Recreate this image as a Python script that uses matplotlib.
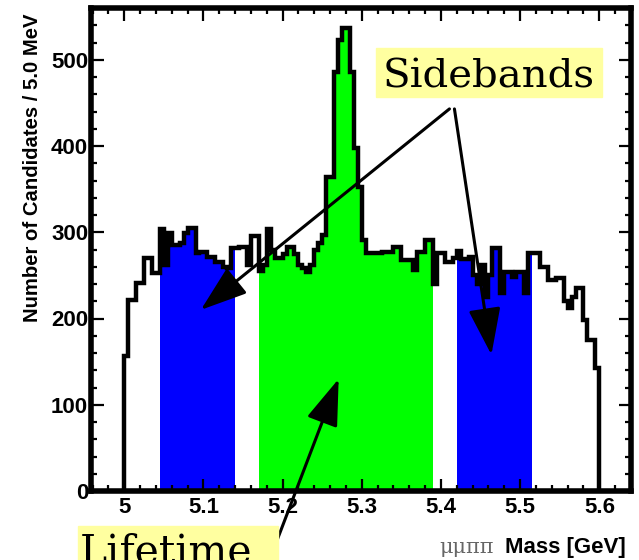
import numpy as np
import matplotlib
matplotlib.use("Agg")
import matplotlib.pyplot as plt
from matplotlib.patches import Rectangle
from matplotlib.ticker import MultipleLocator, FuncFormatter

# mu mu pi pi invariant mass, 5 MeV bins between 5.0 and 5.6 GeV
mass_lo, mass_hi = 5.0, 5.6
counts = [
    157, 222, 222, 241, 241, 270, 270, 253, 253, 304,
    262, 299, 285, 285, 288, 299, 305, 305, 276, 277,
    277, 271, 271, 266, 266, 260, 258, 282, 282, 283,
    283, 262, 296, 296, 255, 262, 304, 280, 270, 270,
    275, 283, 283, 275, 262, 258, 254, 262, 280, 288,
    297, 364, 364, 486, 523, 537, 537, 486, 398, 353,
    291, 276, 276, 276, 276, 277, 277, 277, 283, 283,
    268, 268, 268, 256, 277, 277, 291, 291, 240, 276,
    276, 266, 266, 270, 278, 269, 269, 271, 250, 240,
    262, 225, 250, 282, 282, 230, 254, 254, 248, 254,
    254, 230, 276, 276, 276, 260, 260, 245, 245, 247,
    247, 220, 212, 225, 235, 235, 198, 175, 175, 143,
]

# mass windows used for the lifetime fit and the background estimate
left_sideband = (5.045, 5.14)
signal_window = (5.17, 5.39)
right_sideband = (5.42, 5.515)

W, H = 639, 560
fig = plt.figure(figsize=(W / 100, H / 100), dpi=100)


def px(x, y):
    # figure pixels (from top-left) -> figure fraction
    return x / W, 1 - y / H


ax = fig.add_axes([91 / W, 1 - 491 / H, 540 / W, 483 / H])

vals = np.array(counts, dtype=float)
edges = np.linspace(mass_lo, mass_hi, len(vals) + 1)


def fill_window(lo, hi, color):
    idx = np.where((edges[:-1] >= lo - 1e-9) & (edges[1:] <= hi + 1e-9))[0]
    ax.stairs(vals[idx], edges[idx[0]:idx[-1] + 2], fill=True,
              color=color, lw=0, zorder=1)


fill_window(*left_sideband, "#0000ff")
fill_window(*right_sideband, "#0000ff")
fill_window(*signal_window, "#00ff00")
ax.stairs(vals, edges, color="black", lw=3.2, zorder=2)

ax.set_xlim(4.958, 5.64)
ax.set_ylim(0, 560)

ax.xaxis.set_major_locator(MultipleLocator(0.1))
ax.xaxis.set_minor_locator(MultipleLocator(0.02))
ax.yaxis.set_major_locator(MultipleLocator(100))
ax.yaxis.set_minor_locator(MultipleLocator(20))
ax.xaxis.set_major_formatter(FuncFormatter(lambda v, p: f"{v:g}"))
ax.yaxis.set_major_formatter(FuncFormatter(lambda v, p: f"{v:g}"))

ax.tick_params(which="both", direction="in", top=True, right=True,
               width=1.6, colors="black")
ax.tick_params(which="major", length=9)
ax.tick_params(which="minor", length=4.5)
ax.tick_params(axis="x", pad=4)
ax.tick_params(axis="y", pad=2)
for lab in ax.get_xticklabels() + ax.get_yticklabels():
    lab.set_fontfamily("Liberation Sans")
    lab.set_fontweight("bold")
    lab.set_fontsize(16)

for sp in ax.spines.values():
    sp.set_linewidth(4.0)

fig.text(*px(33, 168), "Number of Candidates / 5.0 MeV", rotation=90,
         ha="center", va="center", fontsize=14.6, fontweight="bold",
         family="Liberation Sans")
fig.text(*px(626, 553), "Mass [GeV]", ha="right", va="baseline",
         fontsize=16, fontweight="bold", family="Liberation Sans")
fig.text(*px(494, 553), "\u03bc\u03bc\u03c0\u03c0", ha="right", va="baseline",
         fontsize=15, family="DejaVu Serif", color="#666666")

# highlighted labels
box_color = "#ffffa0"
fig.patches.append(Rectangle(px(376, 97), 226 / W, 49 / H,
                             transform=fig.transFigure, color=box_color,
                             zorder=3))
fig.text(*px(489, 87), "Sidebands", ha="center", va="baseline",
         fontsize=29, family="DejaVu Serif", zorder=4)
fig.patches.append(Rectangle(px(78, 600), 200 / W, 74 / H,
                             transform=fig.transFigure, color=box_color,
                             zorder=3))
fig.text(*px(80, 564), "Lifetime", ha="left", va="baseline",
         fontsize=29.5, family="DejaVu Serif", zorder=4)

arrow = dict(arrowstyle="-|>,head_length=2.9,head_width=1.0",
             mutation_scale=10, lw=2.2, color="black",
             shrinkA=0, shrinkB=0)
ax.annotate("", xy=(5.0967, 210), xytext=(5.4107, 443),
            arrowprops=arrow, annotation_clip=False, zorder=5)
ax.annotate("", xy=(5.4637, 158), xytext=(5.4170, 443),
            arrowprops=arrow, annotation_clip=False, zorder=5)
ax.annotate("", xy=(5.2708, 130), xytext=(5.181, -86),
            arrowprops=arrow, annotation_clip=False, zorder=5)

fig.savefig("out.png", dpi=100)
